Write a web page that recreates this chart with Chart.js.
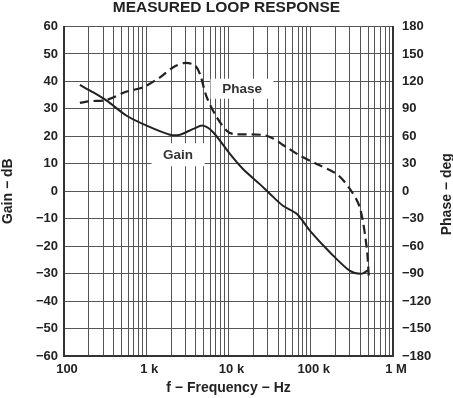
<!DOCTYPE html>
<html>
<head>
<meta charset="utf-8">
<script src="https://cdn.jsdelivr.net/npm/chart.js@4/dist/chart.umd.min.js"></script>
<style>
  html, body { margin: 0; padding: 0; background: #fff; }
  #wrap { width: 453px; height: 398px; }
</style>
</head>
<body>
<div id="wrap"><canvas id="grafLoop"></canvas></div>
<script>
// datos
const gainFreq = [156, 227, 330, 578, 1010, 1940, 2570, 3720, 4900, 6500, 10400, 15000, 24000, 32000, 46000, 68000, 98000, 172000, 300000, 420000, 500000];
const gainDb = [38.7, 36.0, 33.0, 27.5, 23.9, 20.6, 20.6, 22.7, 23.9, 21.5, 13.6, 8.1, 2.6, -1.0, -5.3, -8.3, -14.4, -22.3, -29.0, -30.0, -28.7];
const phaseFreq = [156, 207, 330, 578, 920, 1470, 2130, 2970, 3920, 4490, 5440, 7200, 9500, 11400, 29000, 51000, 74000, 118000, 207000, 300000, 395000, 479000, 510000];
const phaseDeg = [96.5, 98.3, 99.8, 108.9, 113.6, 124.5, 135.5, 140.3, 137.3, 128.2, 102.7, 80.8, 66.2, 62.6, 60.7, 48.0, 38.9, 29.8, 18.8, 2.4, -17.7, -61.5, -96.0];

const gainTicks = [60, 50, 40, 30, 20, 10, 0, -10, -20, -30, -40, -50, -60];
const phaseTicks = [180, 150, 120, 90, 60, 30, 0, -30, -60, -90, -120, -150, -180];
const freqLabels = { 100: '100', 1000: '1 k', 10000: '10 k', 100000: '100 k', 1000000: '1 M' };

function toPts(xs, ys) {
    let out = [];
    for (var i = 0; i < xs.length; i++) {
        out.push({ x: xs[i], y: ys[i] });
    }
    return out;
}
function minus(v) {
    return String(v).replace('-', '\u2212');
}

const FAM = "'Liberation Sans', Arial, sans-serif";
const fontTick = { family: FAM, weight: 'bold', size: 13 };
const fontTitle = { family: FAM, weight: 'bold', size: 14 };

// etiquetas "Phase" y "Gain" dentro del grafico + titulo del eje derecho (se lee hacia arriba)
const curveLabels = {
    id: 'curveLabels',
    afterDatasetsDraw(chart) {
        const c = chart.ctx;
        const items = [
            { text: 'Phase', x: 14600, y: 112, axis: 'y2', w: 63, h: 20 },
            { text: 'Gain', x: 2440, y: 13.3, axis: 'y', w: 53, h: 23 }
        ];
        c.save();
        items.forEach(function(it) {
            const px = chart.scales.x.getPixelForValue(it.x);
            const py = chart.scales[it.axis].getPixelForValue(it.y);
            c.fillStyle = '#fff';
            c.fillRect(px - it.w / 2, py - it.h / 2, it.w, it.h);
            c.fillStyle = '#333';
            c.font = "bold 13.5px " + FAM;
            c.textAlign = 'center';
            c.textBaseline = 'middle';
            c.fillText(it.text, px, py + 1);
        });
        c.restore();
    },
    afterDraw(chart) {
        const c = chart.ctx;
        const a = chart.chartArea;
        c.save();
        c.translate(chart.width - 6, (a.top + a.bottom) / 2 + 3);
        c.rotate(-Math.PI / 2);
        c.fillStyle = '#222';
        c.font = "bold 14px " + FAM;
        c.textAlign = 'center';
        c.textBaseline = 'middle';
        c.fillText('Phase \u2212 deg', 0, 0);
        c.restore();
    }
};

const ctxLoop = document.getElementById('grafLoop').getContext('2d');
let config_loop = {
    type: 'line',
    data: {
        datasets: [{
            label: 'Gain',
            data: toPts(gainFreq, gainDb),
            yAxisID: 'y',
            borderColor: '#222',
            borderWidth: 2,
            pointRadius: 0,
            tension: 0.3,
            fill: false
        }, {
            label: 'Phase',
            data: toPts(phaseFreq, phaseDeg),
            yAxisID: 'y2',
            borderColor: '#222',
            borderWidth: 2.2,
            borderDash: [9, 5],
            pointRadius: 0,
            tension: 0.3,
            fill: false
        }]
    },
    options: {
        responsive: true,
        maintainAspectRatio: false,
        animation: false,
        layout: { padding: 0 },
        scales: {
            x: {
                type: 'logarithmic',
                min: 100,
                max: 1000000,
                afterFit: function(s) { s.height = 42; },
                afterBuildTicks: function(s) {
                    let t = [];
                    for (var e = 2; e < 6; e++) {
                        for (var k = 1; k < 10; k++) {
                            t.push({ value: k * Math.pow(10, e) });
                        }
                    }
                    t.push({ value: 1000000 });
                    s.ticks = t;
                },
                grid: { color: '#555', lineWidth: 1, drawTicks: false },
                border: { color: '#333', width: 2 },
                ticks: {
                    autoSkip: false,
                    maxRotation: 0,
                    padding: 6,
                    labelOffset: 3,
                    color: '#222',
                    font: fontTick,
                    callback: function(v) { return freqLabels[v] || ''; }
                },
                title: {
                    display: true,
                    text: 'f \u2212 Frequency \u2212 Hz',
                    color: '#222',
                    font: fontTitle,
                    padding: { top: 0, bottom: 1 }
                }
            },
            y: {
                position: 'left',
                min: -60,
                max: 60,
                afterFit: function(s) { s.width = 64; },
                afterBuildTicks: function(s) {
                    s.ticks = gainTicks.map(function(v) { return { value: v }; });
                },
                grid: { color: '#555', lineWidth: 1, drawTicks: false },
                border: { color: '#333', width: 2 },
                ticks: {
                    padding: 6,
                    color: '#222',
                    font: fontTick,
                    callback: function(v) { return minus(v); }
                },
                title: {
                    display: true,
                    text: 'Gain \u2212 dB',
                    color: '#222',
                    font: fontTitle,
                    padding: { top: 0, bottom: 0 }
                }
            },
            y2: {
                position: 'right',
                min: -180,
                max: 180,
                afterFit: function(s) { s.width = 60; },
                afterBuildTicks: function(s) {
                    s.ticks = phaseTicks.map(function(v) { return { value: v }; });
                },
                grid: { drawOnChartArea: false, drawTicks: false },
                border: { color: '#333', width: 2 },
                ticks: {
                    padding: 9,
                    color: '#222',
                    font: fontTick,
                    callback: function(v) { return minus(v); }
                }
            }
        },
        plugins: {
            legend: { display: false },
            tooltip: { enabled: false },
            title: {
                display: true,
                text: 'MEASURED LOOP RESPONSE',
                color: '#222',
                font: { family: FAM, weight: 'bold', size: 15.5, lineHeight: 1 },
                padding: { top: 0, bottom: 11 }
            }
        }
    },
    plugins: [curveLabels]
};
const loopChart = new Chart(ctxLoop, config_loop);
</script>
</body>
</html>
